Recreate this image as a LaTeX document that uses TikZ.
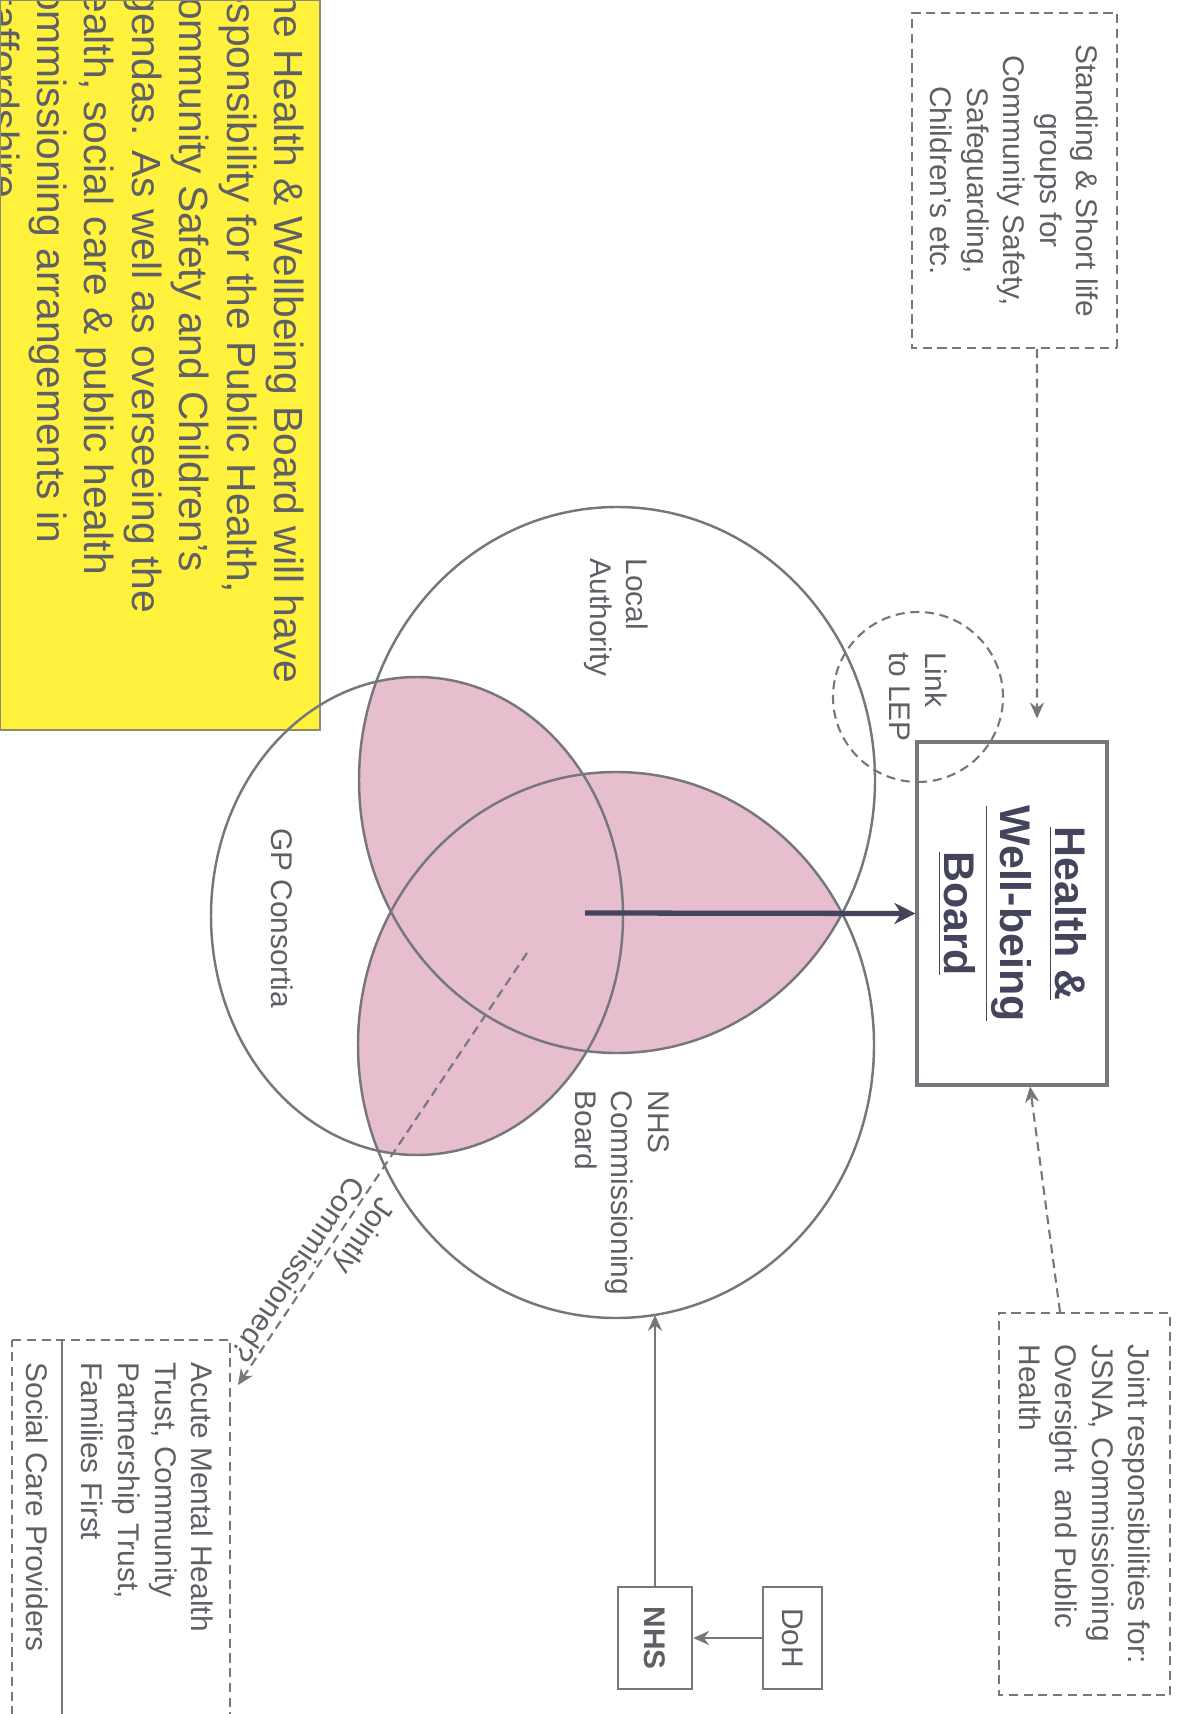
\documentclass[tikz,border=0pt]{standalone}
\usepackage{fontspec}
\setmainfont{Liberation Sans}
\usetikzlibrary{shapes.geometric,arrows.meta,calc}

\definecolor{inkgray}{RGB}{95,95,102}
\definecolor{linegray}{RGB}{118,118,124}
\definecolor{lobepink}{RGB}{231,190,205}
\definecolor{notefill}{RGB}{255,241,60}
\definecolor{noteedge}{RGB}{140,140,110}
\definecolor{boardink}{RGB}{68,68,92}

% the three bodies of the board, as paths for the shaded overlaps
\newcommand{\laoval}{(780,617) ellipse [x radius=27.3mm, y radius=25.8mm]}
\newcommand{\gpoval}{(916,417) ellipse [x radius=23.9mm, y radius=20.6mm]}
\newcommand{\nhsoval}{(1045,616) ellipse [x radius=27.3mm, y radius=25.8mm]}

\begin{document}
\begin{tikzpicture}[x=0.1mm, y=0.1mm, rotate=-90, transform shape,
    txt/.style={inner sep=0pt, text=inkgray, font=\fontsize{8.5}{10.4}\selectfont, align=left},
    oval/.style={ellipse, draw=linegray, line width=0.7pt, inner sep=0pt},
    dashbox/.style={draw=linegray, dash pattern=on 2.6pt off 1.6pt, line width=0.6pt,
      text=inkgray, font=\fontsize{8.5}{10.4}\selectfont, inner sep=2pt},
    solidbox/.style={draw=linegray, line width=0.7pt, text=inkgray, inner sep=1pt},
    boardbox/.style={draw=linegray, line width=0.9pt, text=boardink, align=center,
      font=\bfseries\fontsize{12.2}{15.8}\selectfont},
    link/.style={draw=linegray, line width=0.6pt, -{Stealth[length=4.5pt, width=4pt]}},
    dashlink/.style={link, dash pattern=on 2.6pt off 1.6pt},
    mainlink/.style={draw=boardink, line width=1.5pt, -{Stealth[length=6pt, width=6pt]}}]

  \useasboundingbox (0,0) rectangle (1714,1177);

  % note
  \fill[notefill] (0,0) rectangle (730,320);
  \begin{scope}
    \clip (0,0) rectangle (730,320);
    \node[txt, anchor=north west, font=\fontsize{11.6}{13.5}\selectfont] (note) at (-33,305)
      {The Health \& Wellbeing Board will have\\
       responsibility for the Public Health,\\
       Community Safety and Children’s\\
       agendas. As well as overseeing the\\
       health, social care \& public health\\
       commissioning arrangements in\\
       Staffordshire};
  \end{scope}
  \draw[noteedge, line width=0.8pt] (0,0) rectangle (730,320);

  % shaded overlaps
  \begin{scope}
    \clip \laoval;
    \fill[lobepink] \gpoval \nhsoval;
  \end{scope}
  \begin{scope}
    \clip \gpoval;
    \fill[lobepink] \nhsoval;
  \end{scope}

  \node[oval, minimum width=54.6mm, minimum height=51.6mm] (la) at (780,617) {};
  \node[oval, minimum width=47.8mm, minimum height=41.2mm] (gp) at (916,417) {};
  \node[oval, minimum width=54.6mm, minimum height=51.6mm] (nhsc) at (1045,616) {};

  \node[txt, anchor=north west] (latxt) at (558,649) {Local\\Authority};
  \node[txt] (gptxt) at (918,282) {GP Consortia};
  \node[txt, anchor=north west] (nhstxt) at (1090,670) {NHS\\Commissioning\\Board};

  \node[circle, draw=linegray, dash pattern=on 2.6pt off 1.6pt, line width=0.6pt,
    minimum size=17mm, inner sep=0pt, text=inkgray, align=left,
    font=\fontsize{8.5}{10.4}\selectfont] (lep) at (697,918) {Link\\to LEP};

  % boxes
  \node[boardbox, minimum width=34.3mm, minimum height=19mm] (hwb) at (913.5,1012)
    {\underline{Health \&}\\\underline{Well-being}\\\underline{Board}};
  \node[dashbox, minimum width=33.5mm, minimum height=20.5mm, align=center] (stand) at (180.5,1014.5)
    {Standing \& Short life\\groups for\\Community Safety,\\Safeguarding,\\Children’s etc.};
  \node[dashbox, minimum width=38.2mm, minimum height=17.1mm, align=left] (joint) at (1504,1084.5)
    {Joint responsibilities for:\\JSNA, Commissioning\\Oversight\ \ and Public\\Health};
  \node[solidbox, minimum width=10.2mm, minimum height=7.4mm,
    font=\bfseries\fontsize{8.5}{10}\selectfont] (nhs) at (1638,655) {NHS};
  \node[solidbox, minimum width=10.2mm, minimum height=5.9mm,
    font=\fontsize{8.5}{10}\selectfont] (doh) at (1638,792.5) {DoH};

  % providers
  \draw[linegray, dash pattern=on 2.6pt off 1.6pt, line width=0.6pt] (1340,12) rectangle (1760,230);
  \draw[linegray, line width=0.6pt] (1340,62) -- (1760,62);
  \node[txt, anchor=north west] (acute) at (1362,214)
    {Acute Mental Health\\Trust, Community\\Partnership Trust,\\Families First};
  \node[txt, anchor=north west] (scp) at (1362,49) {Social Care Providers};

  % connectors
  \coordinate (core) at (913,585);
  \coordinate (jstart) at (953,527);
  \coordinate (provtip) at (1385,238);
  \coordinate (nhsrim) at (1315,655);

  \draw[mainlink] (core) -- (hwb.south);
  \draw[dashlink, shorten >=2.2mm] ($(stand.east)+(0,22.5)$) -- ($(hwb.west)+(0,25)$);
  \draw[dashlink] ($(joint.west)+(0,-24.5)$) -- ($(hwb.east)+(0,18)$);
  \draw[link] (nhs.west) -- (nhsrim);
  \draw[link] (doh.south) -- (nhs.north);
  \draw[dashlink] (jstart) -- (provtip);
  \node[txt, rotate=-33.8] (jc) at (1280,314) {Jointly\\Commissioned?};
\end{tikzpicture}
\end{document}
